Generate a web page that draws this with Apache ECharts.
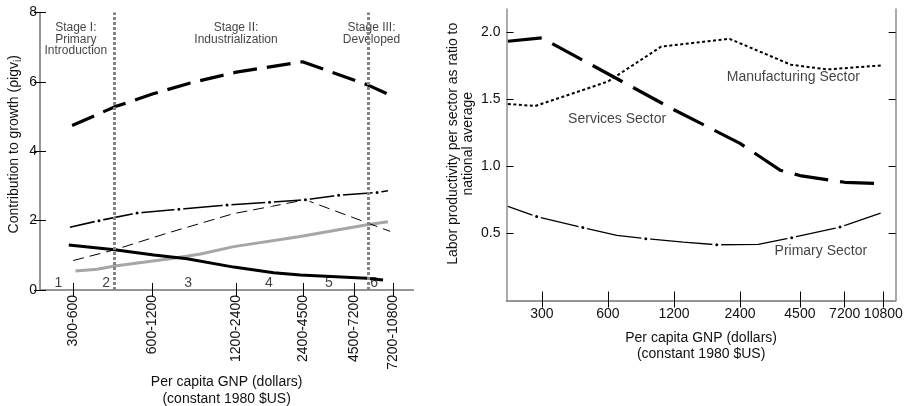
<!DOCTYPE html>
<html>
<head>
<meta charset="utf-8">
<script src="https://cdn.jsdelivr.net/npm/echarts@6/dist/echarts.min.js"></script>
<style>
  html, body { margin: 0; padding: 0; background: #fff; }
  #chart { width: 914px; height: 406px; }
</style>
</head>
<body>
<div id="chart"></div>
<script>
// ---- left panel: contribution to growth, by income stage ----
// x positions are in axis units (0..100) of the income-stage scale
const leftTickPos = [9.0, 30.1, 52.6, 70.5, 84.2, 94.6]
const leftTickLabels = ['300-600', '600-1200', '1200-2400', '2400-4500', '4500-7200', '7200-10800']
const stageNumPos = [4.9, 17.7, 39.7, 61.3, 77.4, 89.5]
const stageNums = ['1', '2', '3', '4', '5', '6']
const stageBounds = [20.0, 87.8]
const stageTitlePos = [9.6, 52.5, 88.8]
const stageTitles = ['Stage I:\nPrimary\nIntroduction', 'Stage II:\nIndustrialization', 'Stage III:\nDeveloped']

const thickDashed = [[8.6, 4.74], [20.0, 5.28], [30.1, 5.65], [40.3, 5.97], [52.6, 6.28], [70.3, 6.58], [87.6, 5.92], [93.4, 5.64]]
const dashDot = [[8.0, 1.81], [15.8, 2.00], [26.0, 2.22], [37.2, 2.33], [50.1, 2.45], [61.5, 2.53], [71.1, 2.60], [80.0, 2.73], [90.3, 2.81], [93.2, 2.86]]
const dashDotMarked = [0, 1, 1, 1, 1, 1, 1, 1, 1, 0]
const thinDashed = [[8.9, 0.85], [20.0, 1.16], [25.0, 1.33], [34.1, 1.64], [51.8, 2.20], [71.1, 2.60], [93.8, 1.69]]
const grayLine = [[9.5, 0.55], [15.3, 0.60], [20.0, 0.69], [34.9, 0.90], [43.0, 1.04], [51.9, 1.25], [69.7, 1.54], [87.6, 1.88], [93.2, 1.97]]
const blackLine = [[7.7, 1.30], [20.0, 1.16], [30.5, 1.01], [39.4, 0.90], [51.9, 0.66], [62.6, 0.50], [69.7, 0.43], [87.6, 0.34], [91.9, 0.29]]

// ---- right panel: labor productivity ratio vs per capita GNP ----
const gnpTicks = [300, 600, 1200, 2400, 4500, 7200, 10800]
const ratioTicks = [0.5, 1, 1.5, 2]
const services = [[210, 1.93], [300, 1.955], [1200, 1.42], [2400, 1.17], [3655, 0.97], [4500, 0.93], [7200, 0.88], [10500, 0.87]]
const manufacturing = [[210, 1.463], [280, 1.448], [600, 1.63], [1050, 1.89], [2150, 1.948], [4100, 1.755], [6000, 1.72], [10600, 1.75]]
const primary = [[210, 0.70], [284, 0.625], [461, 0.543], [659, 0.485], [893, 0.46], [1325, 0.435], [1881, 0.415], [2910, 0.418], [4131, 0.468], [6858, 0.547], [10500, 0.65]]
const primaryMarked = [0, 1, 1, 0, 1, 0, 1, 0, 1, 1, 0]
const sectorNames = ['Manufacturing Sector', 'Services Sector', 'Primary Sector']
const sectorLabelPos = [[4200, 1.663], [661, 1.351], [5607, 0.368]]

const FONT = 'Liberation Sans, Arial, sans-serif'
const BORDER = { show: true, lineStyle: { color: '#8f8f8f', width: 1.5 } }
const lg = v => Math.log10(v)

function nearestLabel (pos, labels, v) {
  let best = 0
  pos.forEach((p, i) => { if (Math.abs(p - v) < Math.abs(pos[best] - v)) best = i })
  return labels[best]
}

function dotSymbol (flags) {
  return (val, params) => flags[params.dataIndex] ? 6 : 0
}

// negative length draws the tick into the plot
function inTick (len, custom) {
  const t = { inside: false, length: -len, lineStyle: { color: '#000', width: 1 } }
  if (custom) t.customValues = custom
  return t
}

const dotItem = { color: '#000', borderColor: '#fff', borderWidth: 3 }

const option = {
  animation: false,
  backgroundColor: '#fff',
  textStyle: { fontFamily: FONT },
  grid: [
    { left: 40, top: 12.5, width: 373.3, height: 277.5, containLabel: false, outerBoundsMode: 'none' },
    { left: 506.5, top: 9, width: 389.2, height: 291.5, containLabel: false, outerBoundsMode: 'none' }
  ],
  xAxis: [
    {
      gridIndex: 0, type: 'value', min: 0, max: 100,
      axisLine: BORDER,
      axisTick: inTick(7, leftTickPos),
      axisLabel: {
        customValues: leftTickPos, rotate: 90, margin: 5, fontSize: 14, color: '#111',
        formatter: v => nearestLabel(leftTickPos, leftTickLabels, v)
      },
      splitLine: { show: false },
      name: 'Per capita GNP (dollars)\n(constant 1980 $US)',
      nameLocation: 'middle', nameGap: 84, nameMoveOverlap: false,
      nameTextStyle: { fontSize: 14, lineHeight: 16.5, color: '#111', verticalAlign: 'top' }
    },
    {
      gridIndex: 0, type: 'value', min: 0, max: 100, position: 'top',
      axisLine: BORDER,
      axisTick: inTick(7, leftTickPos),
      axisLabel: { show: false },
      splitLine: { show: false }
    },
    {
      gridIndex: 1, type: 'value', min: lg(207), max: lg(12300),
      axisLine: BORDER,
      axisTick: inTick(9, gnpTicks.map(lg)),
      axisLabel: {
        customValues: gnpTicks.map(lg), margin: 7, fontSize: 14, color: '#111',
        formatter: v => nearestLabel(gnpTicks.map(lg), gnpTicks.map(String), v)
      },
      splitLine: { show: false },
      name: 'Per capita GNP (dollars)\n(constant 1980 $US)',
      nameLocation: 'middle', nameGap: 29, nameMoveOverlap: false,
      nameTextStyle: { fontSize: 14, lineHeight: 16.5, color: '#111', verticalAlign: 'top' }
    },
    {
      gridIndex: 1, type: 'value', min: lg(207), max: lg(12300), position: 'top',
      axisLine: BORDER,
      axisTick: inTick(7, gnpTicks.map(lg)),
      axisLabel: { show: false },
      splitLine: { show: false }
    }
  ],
  yAxis: [
    {
      gridIndex: 0, type: 'value', min: 0, max: 8, interval: 2,
      axisLine: BORDER,
      axisTick: inTick(6),
      axisLabel: { margin: 3, fontSize: 14, color: '#111' },
      splitLine: { show: false },
      name: 'Contribution to growth (ρigv{sub|i})',
      nameLocation: 'middle', nameGap: 17, nameRotate: 90, nameMoveOverlap: false,
      nameTextStyle: {
        fontSize: 14, lineHeight: 18, color: '#111', padding: [0, 0, 0, 14],
        rich: { sub: { fontSize: 10, verticalAlign: 'bottom', lineHeight: 10 } }
      }
    },
    {
      gridIndex: 0, type: 'value', min: 0, max: 8, interval: 2, position: 'right',
      axisLine: BORDER,
      axisTick: inTick(6),
      axisLabel: { show: false },
      splitLine: { show: false }
    },
    {
      gridIndex: 1, type: 'value', min: 0, max: 2.17,
      axisLine: BORDER,
      axisTick: inTick(7, ratioTicks),
      axisLabel: { customValues: ratioTicks, margin: 6, fontSize: 14, color: '#111', formatter: v => v.toFixed(1) },
      splitLine: { show: false },
      name: 'Labor productivity per sector as ratio to\nnational average',
      nameLocation: 'middle', nameGap: 31, nameRotate: 90, nameMoveOverlap: false,
      nameTextStyle: { fontSize: 14, lineHeight: 15, color: '#111', padding: [0, 0, 0, 22] }
    },
    {
      gridIndex: 1, type: 'value', min: 0, max: 2.17, position: 'right',
      axisLine: BORDER,
      axisTick: inTick(7, ratioTicks),
      axisLabel: { show: false },
      splitLine: { show: false }
    }
  ],
  series: [
    {
      type: 'line', xAxisIndex: 0, yAxisIndex: 0, data: grayLine, symbol: 'none', silent: true,
      lineStyle: { color: '#a6a6a6', width: 3 }
    },
    {
      type: 'line', xAxisIndex: 0, yAxisIndex: 0, data: thinDashed, symbol: 'none', silent: true,
      lineStyle: { color: '#000', width: 1, type: [11, 6] }
    },
    {
      type: 'line', xAxisIndex: 0, yAxisIndex: 0, data: blackLine, symbol: 'none', silent: true,
      lineStyle: { color: '#000', width: 3 },
      markLine: {
        symbol: 'none', silent: true, label: { show: false },
        lineStyle: { color: '#848484', width: 3, type: [3, 2] },
        data: stageBounds.map(x => ({ xAxis: x }))
      }
    },
    {
      type: 'line', xAxisIndex: 0, yAxisIndex: 0, data: dashDot, silent: true,
      symbol: 'circle', symbolSize: dotSymbol(dashDotMarked), itemStyle: dotItem,
      lineStyle: { color: '#000', width: 1.6 }
    },
    {
      type: 'line', xAxisIndex: 0, yAxisIndex: 0, data: thickDashed, symbol: 'none', silent: true,
      lineStyle: { color: '#000', width: 3.2, type: [24, 10] }
    },
    {
      type: 'scatter', xAxisIndex: 0, yAxisIndex: 0, symbolSize: 0, silent: true,
      data: stageNumPos.map((x, i) => ({ value: [x, 0], name: stageNums[i] })),
      label: { show: true, position: 'top', distance: 0, formatter: '{b}', fontSize: 14, color: '#111' }
    },
    {
      type: 'scatter', xAxisIndex: 0, yAxisIndex: 0, symbolSize: 0, silent: true,
      data: stageTitlePos.map((x, i) => ({ value: [x, 7.72], name: stageTitles[i] })),
      label: { show: true, position: 'bottom', distance: 0, formatter: '{b}', fontSize: 12, lineHeight: 11.5, color: '#111', align: 'center' }
    },
    {
      type: 'line', xAxisIndex: 2, yAxisIndex: 2, data: services.map(d => [lg(d[0]), d[1]]),
      symbol: 'none', silent: true,
      lineStyle: { color: '#000', width: 3.2, type: [34, 12] }
    },
    {
      type: 'line', xAxisIndex: 2, yAxisIndex: 2, data: manufacturing.map(d => [lg(d[0]), d[1]]),
      symbol: 'none', silent: true,
      lineStyle: { color: '#000', width: 2, type: [3, 2.5] }
    },
    {
      type: 'line', xAxisIndex: 2, yAxisIndex: 2, data: primary.map(d => [lg(d[0]), d[1]]),
      silent: true, symbol: 'circle', symbolSize: dotSymbol(primaryMarked), itemStyle: dotItem,
      lineStyle: { color: '#000', width: 1.3 }
    },
    {
      type: 'scatter', xAxisIndex: 2, yAxisIndex: 2, symbolSize: 0, silent: true,
      data: sectorLabelPos.map((p, i) => ({ value: [lg(p[0]), p[1]], name: sectorNames[i] })),
      label: { show: true, position: 'inside', formatter: '{b}', fontSize: 14, color: '#111' }
    }
  ]
}

const myChart = echarts.init(document.getElementById('chart'))
myChart.setOption(option)
</script>
</body>
</html>
